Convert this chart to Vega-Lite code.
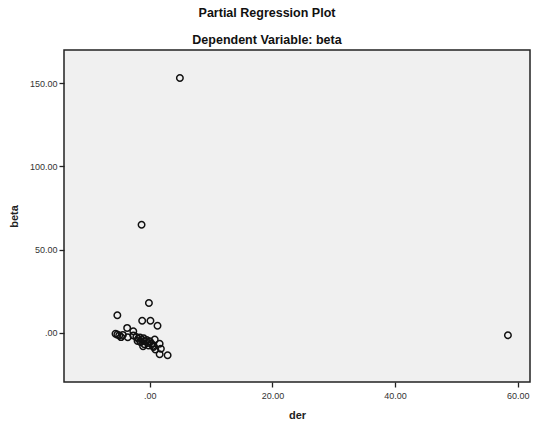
{
  "$schema": "https://vega.github.io/schema/vega-lite/v6.json",
  "autosize": {"type": "none"},
  "width": 466,
  "height": 332,
  "padding": {"left": 64, "top": 50, "right": 4, "bottom": 42},
  "background": "white",
  "title": {
    "text": "Partial Regression Plot",
    "subtitle": "Dependent Variable: beta",
    "anchor": "middle",
    "dx": -30,
    "font": "Liberation Sans",
    "fontSize": 12.5,
    "fontWeight": "bold",
    "color": "#111111",
    "subtitleFont": "Liberation Sans",
    "subtitleFontSize": 12.5,
    "subtitleFontWeight": "bold",
    "subtitleColor": "#111111",
    "subtitlePadding": 14,
    "offset": 4
  },
  "config": {
    "view": {"fill": "#f0f0f0", "stroke": "#222222", "strokeWidth": 1.5},
    "axis": {
      "grid": false,
      "domain": false,
      "tickColor": "#222222",
      "tickSize": 5,
      "tickWidth": 1.3,
      "labelFont": "Liberation Sans",
      "labelFontSize": 9,
      "labelColor": "#333333",
      "titleFont": "Liberation Sans",
      "titleFontSize": 11,
      "titleFontWeight": "bold",
      "titleColor": "#222222"
    }
  },
  "data": {
    "values": [
      {"der": 4.9, "beta": 153.2},
      {"der": -1.35, "beta": 65.0},
      {"der": 58.4, "beta": -1.4},
      {"der": -0.15, "beta": 18.0},
      {"der": -5.3, "beta": 10.6},
      {"der": -1.25, "beta": 7.3},
      {"der": 0.1, "beta": 7.3},
      {"der": 1.25, "beta": 4.3},
      {"der": -3.7, "beta": 3.0},
      {"der": -2.7, "beta": 1.0},
      {"der": -5.6, "beta": -0.5},
      {"der": -5.3, "beta": -1.0},
      {"der": -5.0, "beta": -1.5},
      {"der": -4.7, "beta": -2.5},
      {"der": -4.4, "beta": -1.2},
      {"der": -3.6, "beta": -2.6},
      {"der": -2.7, "beta": -1.5},
      {"der": -2.2, "beta": -2.5},
      {"der": -1.9, "beta": -3.5},
      {"der": -1.6, "beta": -2.8},
      {"der": -1.3, "beta": -4.0},
      {"der": -1.0, "beta": -3.2},
      {"der": -0.8, "beta": -5.0},
      {"der": -0.5, "beta": -4.3},
      {"der": -0.3, "beta": -6.0},
      {"der": 0.0, "beta": -5.0},
      {"der": 0.3, "beta": -6.5},
      {"der": -1.5, "beta": -5.5},
      {"der": -0.9, "beta": -6.8},
      {"der": -0.2, "beta": -7.5},
      {"der": 0.5, "beta": -7.8},
      {"der": 0.8, "beta": -4.0},
      {"der": 0.6, "beta": -8.5},
      {"der": 1.6, "beta": -6.5},
      {"der": 1.8, "beta": -9.5},
      {"der": 1.6, "beta": -12.8},
      {"der": 2.9, "beta": -13.4},
      {"der": -2.0, "beta": -4.8},
      {"der": -1.1, "beta": -8.0},
      {"der": 0.9, "beta": -10.0}
    ]
  },
  "mark": {"type": "point", "shape": "circle", "filled": false, "size": 42, "stroke": "#111111", "strokeWidth": 1.5, "opacity": 1},
  "encoding": {
    "x": {
      "field": "der",
      "type": "quantitative",
      "scale": {"domain": [-14, 62], "nice": false, "zero": false},
      "axis": {"values": [0, 20, 40, 60], "labelExpr": "datum.value == 0 ? '.00' : format(datum.value, '.2f')", "title": "der", "labelPadding": 4, "titlePadding": 9}
    },
    "y": {
      "field": "beta",
      "type": "quantitative",
      "scale": {"domain": [-29.5, 170], "nice": false, "zero": false},
      "axis": {"values": [0, 50, 100, 150], "labelExpr": "datum.value == 0 ? '.00' : format(datum.value, '.2f')", "title": "beta", "labelPadding": 2, "titlePadding": 10}
    }
  }
}
